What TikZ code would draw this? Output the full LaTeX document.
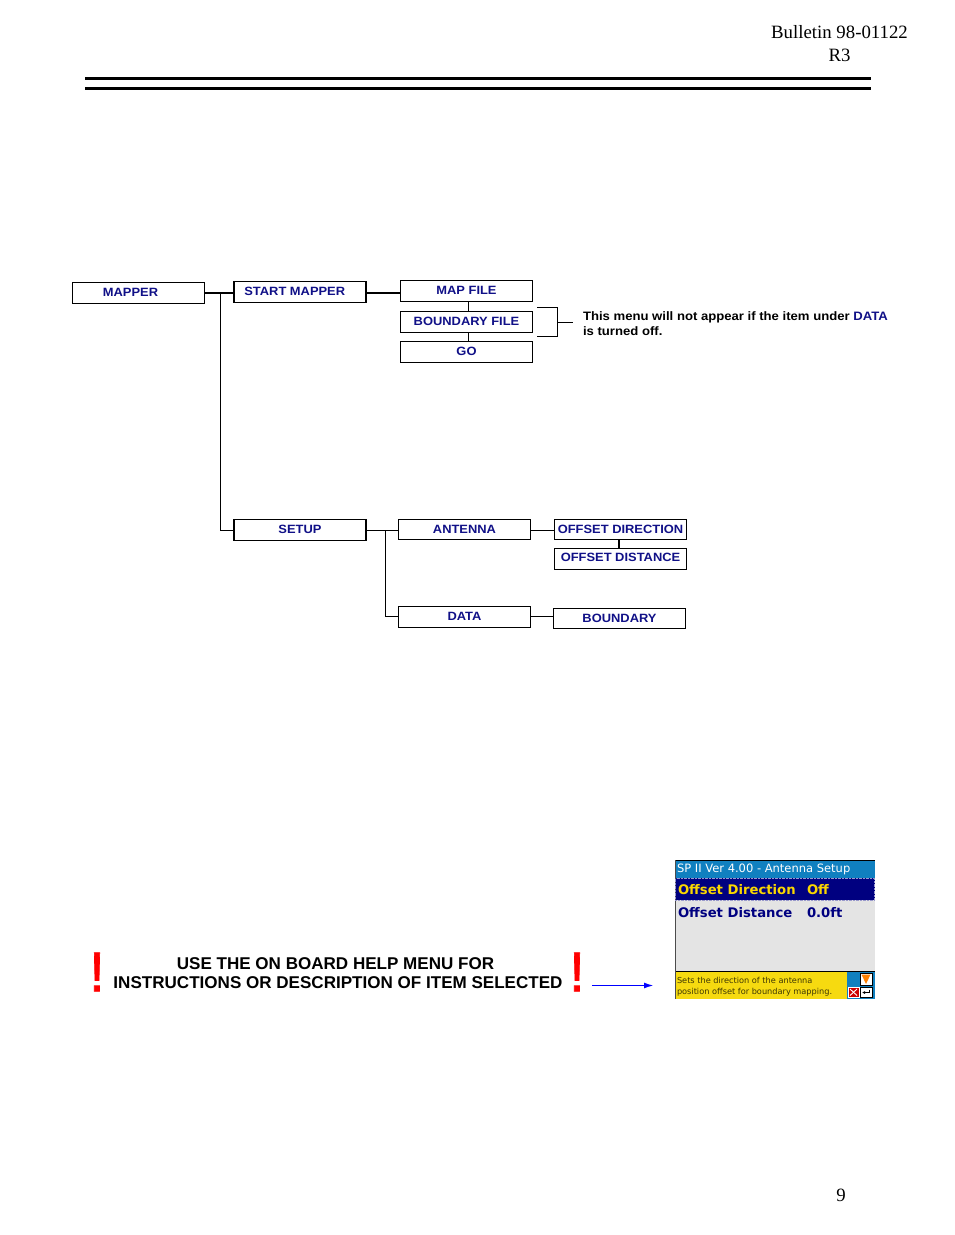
\documentclass[tikz,border=0pt]{standalone}
\usepackage{fontspec}
\setmainfont{Liberation Serif}
\setsansfont{Liberation Sans}
\newfontfamily\menufont[FakeStretch=1.075]{Liberation Sans}
\newfontfamily\bangfont[FakeBold=1.2]{Liberation Sans}
\newfontfamily\screenfont{DejaVu Sans}
\usetikzlibrary{arrows.meta}
\definecolor{menublue}{RGB}{16,16,135}
\definecolor{barblue}{RGB}{16,128,192}
\definecolor{rowblue}{RGB}{0,0,128}
\definecolor{rowgrey}{RGB}{228,228,228}
\definecolor{tipyellow}{RGB}{246,218,16}
\definecolor{rowyellow}{RGB}{250,215,0}

\begin{document}
\begin{tikzpicture}[x=1pt, y=-1pt,
        menubox/.style={draw, line width=0.9pt, inner sep=0pt, outer sep=0pt,
            minimum width=132pt, minimum height=20.5pt, text depth=1pt,
            text=menublue, font=\menufont\fontsize{12}{14}\selectfont\bfseries},
        heavybox/.style={menubox, line width=1.4pt},
        plaintext/.style={inner sep=0pt, outer sep=0pt},
        barline/.style={line width=3pt},
        bang/.style={plaintext, text=red, font=\bangfont\fontsize{56}{56}\selectfont},
        screentext/.style={plaintext, anchor=west, font=\screenfont\fontsize{11.5}{14}\selectfont},
        rowtext/.style={plaintext, anchor=west, font=\screenfont\fontsize{13.2}{16}\selectfont\bfseries}]
        \useasboundingbox (0, 0) rectangle (954, 1235);

        \node[plaintext, align=center, font=\fontsize{18.8}{23}\selectfont] (bulletin) at (839.5, 44)
        {Bulletin 98-01122\\R3};
        \coordinate (ruleA) at (85, 78.5);
        \coordinate (ruleB) at (871, 78.5);
        \coordinate (ruleC) at (85, 88.5);
        \coordinate (ruleD) at (871, 88.5);
        \draw[barline] (ruleA) -- (ruleB);
        \draw[barline] (ruleC) -- (ruleD);

        \begin{scope}
            \node[menubox] (mapper) at (138.5, 293)
            {\hspace*{-16pt}MAPPER};
            \node[heavybox] (startmapper) at (300, 292)
            {\hspace*{-10.5pt}START MAPPER};
            \node[menubox] (mapfile) at (466.5, 291)
            {MAP FILE};
            \node[menubox] (boundaryfile) at (466.5, 322)
            {BOUNDARY FILE};
            \node[menubox] (go) at (466.5, 352)
            {GO};
            \node[heavybox] (setup) at (300, 530)
            {SETUP};
            \node[menubox] (antenna) at (464.5, 529.5)
            {ANTENNA};
            \node[menubox] (data) at (464.5, 617)
            {DATA};
            \node[heavybox] (offsetdir) at (620.5, 529.5)
            {OFFSET DIRECTION};
            \node[heavybox, text depth=4pt] (offsetdist) at (620.5, 559)
            {OFFSET DISTANCE};
            \node[heavybox] (boundary) at (619.5, 618.5)
            {BOUNDARY};
        \end{scope}

        \node[plaintext, anchor=west, align=left, font=\menufont\fontsize{12.2}{15}\selectfont\bfseries] (note) at (583, 323.5)
        {This menu will not appear if the item under \textcolor{menublue}{DATA}\\is turned off.};

        \coordinate (maptee) at (220.5, 293);
        \coordinate (setuptee) at (385, 530);
        \coordinate (datatee) at (385, 616.5);
        \coordinate (bracktop) at (537, 307.5);
        \coordinate (brackbot) at (537, 336);
        \coordinate (brackmid) at (557.5, 322);
        \coordinate (brackend) at (572.5, 322);

        \begin{scope}[line width=1.8pt]
            \draw (mapper.east |- maptee) -- (startmapper.west |- maptee);
            \draw (startmapper.east |- maptee) -- (mapfile.west |- maptee);
        \end{scope}
        \begin{scope}[line width=0.9pt]
            \draw (maptee) |- (setup.west);
            \draw ([xshift=2pt]mapfile.south) -- ([xshift=2pt]boundaryfile.north);
            \draw ([xshift=2pt]boundaryfile.south) -- ([xshift=2pt]go.north);
            \draw (bracktop) -| (brackmid) |- (brackbot);
            \draw (brackmid) -- (brackend);
            \draw (setup.east) -- (antenna.west |- setup.east);
            \draw (setuptee) |- (data.west |- datatee);
            \draw (antenna.east |- setup.east) -- (offsetdir.west |- setup.east);
            \draw (data.east |- datatee) -- (boundary.west |- datatee);
        \end{scope}
        \draw[line width=1.6pt] ([xshift=-1.5pt]offsetdir.south) -- ([xshift=-1.5pt]offsetdist.north);

        \node[bang] (bangA) at (97, 972) {!};
        \node[bang] (bangB) at (577, 972) {!};
        \node[plaintext, align=center, font=\sffamily\fontsize{17.05}{19}\selectfont\bfseries] (help) at (338, 973.5)
        {\hspace*{-5pt}USE THE ON BOARD HELP MENU FOR\\INSTRUCTIONS OR DESCRIPTION OF ITEM SELECTED};

        \coordinate (arrowA) at (592, 985.5);
        \coordinate (arrowB) at (654, 985.5);
        \draw[blue, line width=1.8pt, -{Latex[length=10pt, width=6pt]}] (arrowA) -- (arrowB);

        \begin{scope}
            \fill[barblue] (675, 860) rectangle (875, 878);
            \fill[rowblue] (675, 878) rectangle (875, 900);
            \fill[rowgrey] (675, 900) rectangle (875, 971);
            \fill[tipyellow] (675, 972) rectangle (846.5, 998.5);
            \fill[barblue] (846.5, 972) rectangle (875, 998.5);
            \draw[line width=0.8pt] (675, 860) -- (875, 860);
            \draw[line width=0.8pt] (675, 971.5) -- (875, 971.5);
            \draw[black!70, line width=0.9pt] (675, 860) -- (675, 998.5);
            \draw[white!60!rowblue, densely dotted, line width=0.4pt] (675.5, 878.5) rectangle (874.5, 900);

            \node[screentext, text=white] (title) at (677, 869.5) {SP II Ver 4.00 - Antenna Setup};
            \node[rowtext, text=rowyellow] (dirname) at (678, 889.5) {Offset Direction};
            \node[rowtext, text=rowyellow] (dirvalue) at (807, 889.5) {Off};
            \node[rowtext, text=rowblue] (distname) at (678, 912.5) {Offset Distance};
            \node[rowtext, text=rowblue] (distvalue) at (807, 912.5) {0.0ft};
            \node[plaintext, anchor=west, text=black!75!tipyellow, font=\screenfont\fontsize{8.2}{10}\selectfont] (tipA) at (677, 980.5) {Sets the direction of the antenna};
            \node[plaintext, anchor=west, text=black!75!tipyellow, font=\screenfont\fontsize{8.2}{10}\selectfont] (tipB) at (677, 992.5) {position offset for boundary mapping.};

            \draw[fill=white, line width=0.5pt] (860, 973) rectangle (872, 985);
            \fill[orange] (861.5, 974.5) -- (870.5, 974.5) -- (866, 984) -- cycle;
            \draw[white, fill=red!80!black, line width=0.5pt] (848, 987) rectangle (859, 997.5);
            \draw[white, line width=0.9pt] (850, 989) -- (857, 995.5);
            \draw[white, line width=0.9pt] (857, 989) -- (850, 995.5);
            \draw[fill=white, line width=0.5pt] (860, 987) rectangle (872, 997.5);
            \draw[line width=0.8pt, -{Latex[length=3pt, width=3pt]}] (869.5, 989.5) |- (862, 992.5);
        \end{scope}

        \node[plaintext, font=\fontsize{18.8}{22}\selectfont] (pagenum) at (841, 1195.5) {9};
\end{tikzpicture}
\end{document}
